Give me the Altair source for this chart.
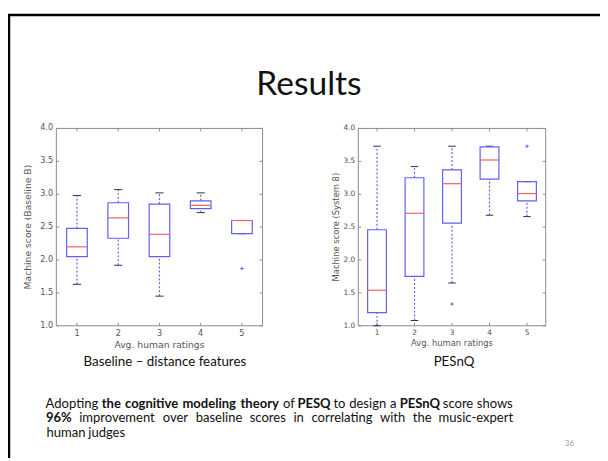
import altair as alt
import pandas as pd

# ---------------- data ----------------
ratings = [1, 2, 3, 4, 5]

base_low = [1.63, 1.92, 1.45, 2.72, 2.40]
base_q1 = [2.05, 2.33, 2.05, 2.78, 2.40]
base_med = [2.20, 2.64, 2.39, 2.83, 2.60]
base_q3 = [2.48, 2.87, 2.85, 2.90, 2.60]
base_high = [2.98, 3.07, 3.02, 3.02, 2.60]
base_out_r = [5]
base_out_v = [1.87]

sys_low = [1.00, 1.08, 1.65, 2.68, 2.66]
sys_q1 = [1.20, 1.75, 2.56, 3.23, 2.90]
sys_med = [1.54, 2.71, 3.16, 3.52, 3.01]
sys_q3 = [2.46, 3.25, 3.37, 3.72, 3.19]
sys_high = [3.73, 3.42, 3.73, 3.73, 3.19]
sys_out_r = [3, 5]
sys_out_v = [1.33, 3.73]

x_ticks = [1, 2, 3, 4, 5]
y_ticks = [1.0, 1.5, 2.0, 2.5, 3.0, 3.5, 4.0]
y_tick_labels = ["1.0", "1.5", "2.0", "2.5", "3.0", "3.5", "4.0"]

title_text = "Results"
caption_left = "Baseline \u2013 distance features"
caption_right = "PESnQ"
x_title = "Avg. human ratings"
y_title_left = "Machine score (Baseline B)"
y_title_right = "Machine score (System 8)"
line1 = [("Adopting", False), ("the", True), ("cognitive", True), ("modeling", True),
         ("theory", True), ("of", False), ("PESQ", True), ("to", False), ("design", False),
         ("a", False), ("PESnQ", True), ("score", False), ("shows", False)]
line2 = [("96%", True), ("improvement", False), ("over", False), ("baseline", False),
         ("scores", False), ("in", False), ("correlating", False), ("with", False),
         ("the", False), ("music-expert", False)]
line3 = [("human", False), ("judges", False)]
page_number = "36"

# ---------------- layout ----------------
W, H = 600, 453
Y_BOT, Y_TOP = 319, 119
LEFT_X = [49, 258]
RIGHT_X = [355, 545]
BLUE = "#6060f2"
RED = "#f26060"
FRAME = "#8a8a8a"
LABEL_FONT = "DejaVu Sans"
LABEL_COLOR = "#555"


def panel(low, q1, med, q3, high, out_r, out_v, xr, ytitle, k, title_dx):
    stats = pd.DataFrame(dict(r=ratings, low=low, q1=q1, med=med, q3=q3, high=high))
    outs = pd.DataFrame(dict(r=out_r, v=out_v))
    xs = alt.Scale(domain=[0.5, 5.5], range=xr, nice=False, zero=False)
    ys = alt.Scale(domain=[1.0, 4.0], range=[Y_BOT, Y_TOP], nice=False, zero=False)
    X = lambda f: alt.X(f, scale=xs, axis=None)
    Y = lambda f: alt.Y(f, scale=ys, axis=None)

    frame_df = pd.DataFrame({"x0": [0.5], "x1": [5.5], "y0": [1.0], "y1": [4.0]})
    frame = alt.Chart(frame_df).mark_rect(fillOpacity=0, stroke=FRAME, strokeWidth=1).encode(
        x=X("x0:Q"), x2="x1:Q", y=Y("y0:Q"), y2="y1:Q")

    xt = pd.DataFrame({"t": x_ticks, "lab": [str(v) for v in x_ticks]})
    yt = pd.DataFrame({"t": y_ticks, "lab": y_tick_labels})
    tick_style = dict(filled=False, stroke=FRAME, strokeWidth=1, size=36, opacity=1)
    tick_bottom = alt.Chart(xt).mark_point(shape="M0,0L0,-1", **tick_style).encode(
        x=X("t:Q"), y=Y("b:Q")).transform_calculate(b="1.0")
    tick_top = alt.Chart(xt).mark_point(shape="M0,0L0,1", **tick_style).encode(
        x=X("t:Q"), y=Y("b:Q")).transform_calculate(b="4.0")
    tick_left = alt.Chart(yt).mark_point(shape="M0,0L1,0", **tick_style).encode(
        x=X("b:Q"), y=Y("t:Q")).transform_calculate(b="0.5")
    tick_right = alt.Chart(yt).mark_point(shape="M0,0L-1,0", **tick_style).encode(
        x=X("b:Q"), y=Y("t:Q")).transform_calculate(b="5.5")

    # tick labels placed through the scales
    xlab = alt.Chart(xt).mark_text(font=LABEL_FONT, fontSize=7.5 * k, color=LABEL_COLOR,
                                   align="center", baseline="top", dy=3).encode(
        x=X("t:Q"), y=Y("b:Q"), text="lab:N").transform_calculate(b="1.0")
    ylab = alt.Chart(yt).mark_text(font=LABEL_FONT, fontSize=7.5 * k, color=LABEL_COLOR,
                                   align="right", baseline="middle", dx=-3 * k).encode(
        x=X("b:Q"), y=Y("t:Q"), text="lab:N").transform_calculate(b="0.5")
    xtit = alt.Chart(pd.DataFrame({"c": [3.0], "b": [1.0]})).mark_text(
        text=x_title, font=LABEL_FONT, fontSize=8.5 * k, color=LABEL_COLOR,
        align="center", baseline="middle", dy=18 * k).encode(x=X("c:Q"), y=Y("b:Q"))
    ytit = alt.Chart(pd.DataFrame({"c": [0.5], "m": [2.5]})).mark_text(
        text=ytitle, font=LABEL_FONT, fontSize=8.5 * k, color=LABEL_COLOR, angle=270,
        align="center", baseline="middle", dy=title_dx).encode(x=X("c:Q"), y=Y("m:Q"))

    base = alt.Chart(stats).transform_calculate(
        xl="datum.r - 0.25", xr="datum.r + 0.25", cl="datum.r - 0.1", cr="datum.r + 0.1"
    )
    wlo = base.mark_rule(color=BLUE, strokeDash=[2, 2], strokeWidth=1.2).encode(
        x=X("r:Q"), y=Y("low:Q"), y2="q1:Q")
    whi = base.mark_rule(color=BLUE, strokeDash=[2, 2], strokeWidth=1.2).encode(
        x=X("r:Q"), y=Y("q3:Q"), y2="high:Q")
    clo = base.mark_rule(color="#333", strokeWidth=1).encode(
        x=X("cl:Q"), x2="cr:Q", y=Y("low:Q"))
    chi = base.mark_rule(color="#333", strokeWidth=1).encode(
        x=X("cl:Q"), x2="cr:Q", y=Y("high:Q"))
    box = base.mark_rect(fillOpacity=0, stroke=BLUE, strokeWidth=1.2).encode(
        x=X("xl:Q"), x2="xr:Q", y=Y("q1:Q"), y2="q3:Q")
    medl = base.mark_rule(color=RED, strokeWidth=1.2).encode(
        x=X("xl:Q"), x2="xr:Q", y=Y("med:Q"))
    pts = alt.Chart(outs).mark_point(shape="M-1,0L1,0M0,-1L0,1", filled=False, stroke=BLUE,
                                     strokeWidth=1, size=12, opacity=1).encode(
        x=X("r:Q"), y=Y("v:Q"))

    return alt.layer(frame, tick_bottom, tick_top, tick_left, tick_right, xlab, ylab, xtit, ytit,
                     wlo, whi, clo, chi, box, medl, pts)


left = panel(base_low, base_q1, base_med, base_q3, base_high, base_out_r, base_out_v,
             LEFT_X, y_title_left, 1.1, -29)
right = panel(sys_low, sys_q1, sys_med, sys_q3, sys_high, sys_out_r, sys_out_v,
              RIGHT_X, y_title_right, 1.0, -23)

# ---------------- slide decorations ----------------
one = pd.DataFrame({"k": [0]})
deco = []
deco.append(alt.Chart(one).mark_rule(color="black", strokeWidth=2.5).encode(
    x=alt.value(1), y=alt.value(4), y2=alt.value(H)))
deco.append(alt.Chart(one).mark_rule(color="black", strokeWidth=2.5).encode(
    x=alt.value(0), x2=alt.value(W), y=alt.value(4)))
deco.append(alt.Chart(one).mark_text(text=title_text, font="Lato", fontSize=34, color="#111",
                                     align="center", baseline="alphabetic").encode(
    x=alt.value(305), y=alt.value(85)))
deco.append(alt.Chart(one).mark_text(text=caption_left, font="Lato", fontSize=13.5, color="#111",
                                     align="center", baseline="middle").encode(
    x=alt.value(159), y=alt.value(356)))
deco.append(alt.Chart(one).mark_text(text=caption_right, font="Lato", fontSize=13.5, color="#111",
                                     align="center", baseline="middle").encode(
    x=alt.value(452), y=alt.value(356)))
deco.append(alt.Chart(one).mark_text(text=page_number, font="Lato", fontSize=8, color="#999",
                                     align="center", baseline="middle").encode(
    x=alt.value(569), y=alt.value(439)))

# paragraph: justified words
CW = {'a': .479, 'b': .525, 'c': .423, 'd': .525, 'e': .498, 'f': .305, 'g': .471, 'h': .525,
      'i': .229, 'j': .239, 'k': .455, 'l': .229, 'm': .799, 'n': .525, 'o': .527, 'p': .525,
      'q': .525, 'r': .349, 's': .391, 't': .335, 'u': .525, 'v': .452, 'w': .715, 'x': .433,
      'y': .453, 'z': .395, 'A': .579, 'E': .488, 'P': .517, 'Q': .662, 'S': .459, '9': .507,
      '6': .507, '%': .715, '-': .306}
FS = 13.2
SCALE = 1.05


def wwidth(w, bold):
    return sum(CW.get(c, .5) for c in w) * FS * SCALE * (1.04 if bold else 1.0)


P_X0, P_X1 = 39, 511
rows = []
for line, ypos, justify in [(line1, 398, True), (line2, 413, True), (line3, 428, False)]:
    widths = [wwidth(w, b) for w, b in line]
    if justify:
        gap = (P_X1 - P_X0 - sum(widths)) / (len(line) - 1)
    else:
        gap = .226 * FS * SCALE
    xcur = P_X0
    for (w, b), wd in zip(line, widths):
        rows.append({"word": w, "bold": "bold" if b else "normal", "cx": xcur + wd / 2, "cy": ypos})
        xcur += wd + gap
words = pd.DataFrame(rows)
for wt in ["normal", "bold"]:
    sub = words[words.bold == wt]
    deco.append(alt.Chart(sub).mark_text(font="Lato", fontSize=FS, fontWeight=wt, color="#111",
                                         align="center", baseline="middle").encode(
        x=alt.X("cx:Q", scale=None), y=alt.Y("cy:Q", scale=None), text="word:N"))

chart = alt.layer(left, right, *deco).resolve_scale(x="independent", y="independent").properties(
    width=W, height=H, autosize=alt.AutoSizeParams(type="none"), padding=0,
    background="white"
).configure_view(strokeWidth=0)

chart.save("out.html", embed_options={"renderer": "svg", "actions": False})
